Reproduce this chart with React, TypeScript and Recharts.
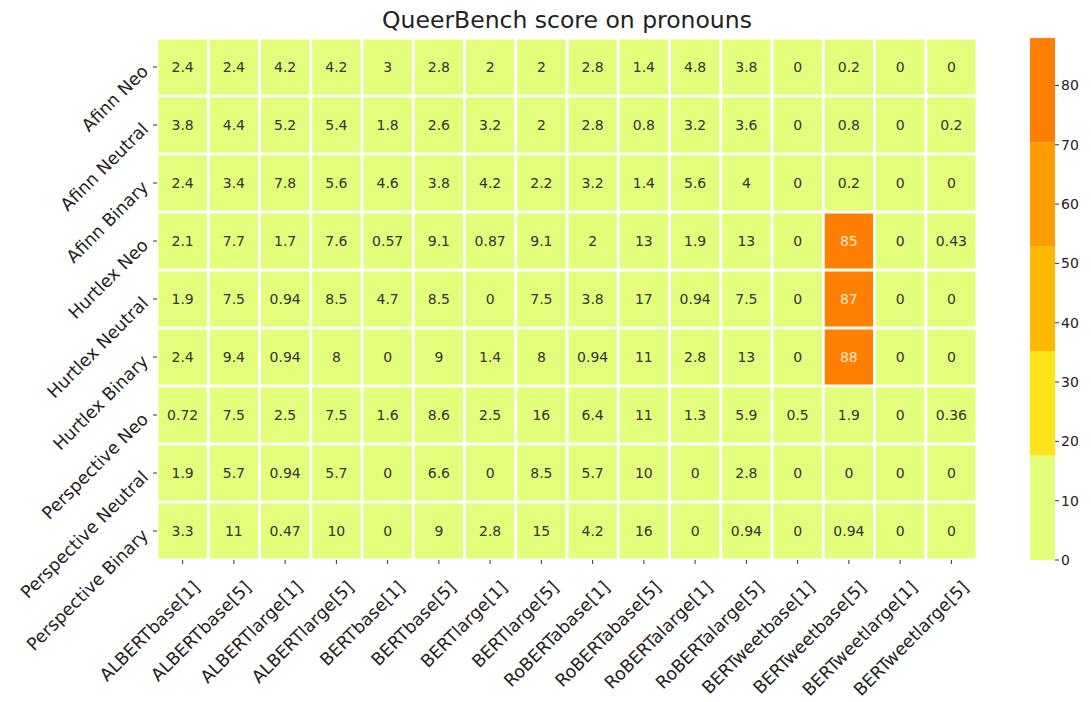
import { ComposedChart, Scatter, XAxis, YAxis, BarChart, Bar } from 'recharts'

const TITLE = 'QueerBench score on pronouns'

const MODELS = [
  'ALBERTbase[1]', 'ALBERTbase[5]', 'ALBERTlarge[1]', 'ALBERTlarge[5]',
  'BERTbase[1]', 'BERTbase[5]', 'BERTlarge[1]', 'BERTlarge[5]',
  'RoBERTabase[1]', 'RoBERTabase[5]', 'RoBERTalarge[1]', 'RoBERTalarge[5]',
  'BERTweetbase[1]', 'BERTweetbase[5]', 'BERTweetlarge[1]', 'BERTweetlarge[5]',
]

const METRICS = [
  'Afinn Neo', 'Afinn Neutral', 'Afinn Binary',
  'Hurtlex Neo', 'Hurtlex Neutral', 'Hurtlex Binary',
  'Perspective Neo', 'Perspective Neutral', 'Perspective Binary',
]

const AFINN_NEO = [2.4, 2.4, 4.2, 4.2, 3, 2.8, 2, 2, 2.8, 1.4, 4.8, 3.8, 0, 0.2, 0, 0]
const AFINN_NEUTRAL = [3.8, 4.4, 5.2, 5.4, 1.8, 2.6, 3.2, 2, 2.8, 0.8, 3.2, 3.6, 0, 0.8, 0, 0.2]
const AFINN_BINARY = [2.4, 3.4, 7.8, 5.6, 4.6, 3.8, 4.2, 2.2, 3.2, 1.4, 5.6, 4, 0, 0.2, 0, 0]
const HURTLEX_NEO = [2.1, 7.7, 1.7, 7.6, 0.57, 9.1, 0.87, 9.1, 2, 13, 1.9, 13, 0, 85, 0, 0.43]
const HURTLEX_NEUTRAL = [1.9, 7.5, 0.94, 8.5, 4.7, 8.5, 0, 7.5, 3.8, 17, 0.94, 7.5, 0, 87, 0, 0]
const HURTLEX_BINARY = [2.4, 9.4, 0.94, 8, 0, 9, 1.4, 8, 0.94, 11, 2.8, 13, 0, 88, 0, 0]
const PERSPECTIVE_NEO = [0.72, 7.5, 2.5, 7.5, 1.6, 8.6, 2.5, 16, 6.4, 11, 1.3, 5.9, 0.5, 1.9, 0, 0.36]
const PERSPECTIVE_NEUTRAL = [1.9, 5.7, 0.94, 5.7, 0, 6.6, 0, 8.5, 5.7, 10, 0, 2.8, 0, 0, 0, 0]
const PERSPECTIVE_BINARY = [3.3, 11, 0.47, 10, 0, 9, 2.8, 15, 4.2, 16, 0, 0.94, 0, 0.94, 0, 0]

const SCORES = [
  AFINN_NEO, AFINN_NEUTRAL, AFINN_BINARY,
  HURTLEX_NEO, HURTLEX_NEUTRAL, HURTLEX_BINARY,
  PERSPECTIVE_NEO, PERSPECTIVE_NEUTRAL, PERSPECTIVE_BINARY,
]

// discrete Wistia-like colour bands
const BAND_EDGES = [0, 17.6, 35.2, 52.8, 70.4, 88]
const BAND_COLORS = ['#e2fe7a', '#ffe419', '#ffb800', '#ff9c00', '#ff8000']
const CBAR_TICKS = [0, 10, 20, 30, 40, 50, 60, 70, 80]

const FONT = '"DejaVu Sans", sans-serif'
const PLOT_W = 820
const PLOT_H = 522
const CELL_W = PLOT_W / MODELS.length
const CELL_H = PLOT_H / METRICS.length
const GAP = 3
const LABEL_SIZE = 17.5

function colorFor(v: number) {
  for (let i = 0; i < BAND_COLORS.length; i++) {
    if (v < BAND_EDGES[i + 1]) return BAND_COLORS[i]
  }
  return BAND_COLORS[BAND_COLORS.length - 1]
}

const cells = SCORES.flatMap((row, r) =>
  row.map((v, c) => ({ x: c + 0.5, y: r + 0.5, v })),
)

function Cell(props: { cx?: number; cy?: number; payload?: { v: number } }) {
  const { cx = 0, cy = 0, payload } = props
  const v = payload?.v ?? 0
  const dark = v > 52.8
  return (
    <g>
      <rect
        x={cx - CELL_W / 2 + GAP / 2}
        y={cy - CELL_H / 2 + GAP / 2}
        width={CELL_W - GAP}
        height={CELL_H - GAP}
        fill={colorFor(v)}
      />
      <text
        x={cx}
        y={cy}
        dy="0.36em"
        textAnchor="middle"
        fontSize={14}
        fontFamily={FONT}
        fill={dark ? '#ffe9d0' : '#333333'}
      >
        {String(v)}
      </text>
    </g>
  )
}

function ModelTick(props: { x?: number; y?: number; payload?: { value: number } }) {
  const { x = 0, y = 0, payload } = props
  const label = MODELS[Math.floor(payload?.value ?? 0)]
  const ax = x + 14
  const ay = y + 18
  return (
    <text
      x={ax}
      y={ay}
      transform={`rotate(-45, ${ax}, ${ay})`}
      textAnchor="end"
      dy="0.35em"
      fontSize={LABEL_SIZE}
      fontFamily={FONT}
      fill="#222"
    >
      {label}
    </text>
  )
}

function MetricTick(props: { x?: number; y?: number; payload?: { value: number } }) {
  const { x = 0, y = 0, payload } = props
  const label = METRICS[Math.floor(payload?.value ?? 0)]
  const ax = x - 6
  const ay = y + 1
  return (
    <text
      x={ax}
      y={ay}
      transform={`rotate(-45, ${ax}, ${ay})`}
      textAnchor="end"
      dy="0.35em"
      fontSize={LABEL_SIZE}
      fontFamily={FONT}
      fill="#222"
    >
      {label}
    </text>
  )
}

const bandRow = [
  BAND_EDGES.slice(1).reduce<Record<string, number | string>>(
    (acc, edge, i) => {
      acc[`b${i}`] = edge - BAND_EDGES[i]
      return acc
    },
    { name: 'cbar' },
  ),
]

export default function App() {
  return (
    <div style={{ position: 'absolute', left: 0, top: 0, width: 1091, height: 702, background: '#fff', fontFamily: FONT }}>
      <div
        style={{
          position: 'absolute',
          left: 157,
          width: PLOT_W,
          top: 6,
          textAlign: 'center',
          fontSize: 23.5,
          color: '#222',
        }}
      >
        {TITLE}
      </div>
      <div style={{ position: 'absolute', left: 0, top: 0 }}>
        <ComposedChart
          width={1000}
          height={702}
          margin={{ top: 38, left: 7, right: 23, bottom: 2 }}
        >
          <XAxis
            type="number"
            dataKey="x"
            domain={[0, MODELS.length]}
            ticks={MODELS.map((_, i) => i + 0.5)}
            interval={0}
            height={140}
            axisLine={false}
            tickSize={4}
            tickLine={{ stroke: '#333' }}
            tick={<ModelTick />}
          />
          <YAxis
            type="number"
            dataKey="y"
            domain={[0, METRICS.length]}
            reversed
            ticks={METRICS.map((_, i) => i + 0.5)}
            interval={0}
            width={150}
            axisLine={false}
            tickSize={4}
            tickLine={{ stroke: '#333' }}
            tick={<MetricTick />}
          />
          <Scatter data={cells} shape={<Cell />} isAnimationActive={false} />
        </ComposedChart>
      </div>
      <div style={{ position: 'absolute', left: 1000, top: 0 }}>
        <BarChart
          width={91}
          height={702}
          data={bandRow}
          margin={{ top: 38, left: 30, right: 0, bottom: 142 }}
          barCategoryGap={0}
        >
          <XAxis dataKey="name" hide />
          <YAxis
            orientation="right"
            domain={[0, 88]}
            ticks={CBAR_TICKS}
            interval={0}
            width={36}
            axisLine={false}
            tickSize={4}
            tickLine={{ stroke: '#333' }}
            tick={{ fontSize: 14, fill: '#222', fontFamily: FONT }}
            allowDataOverflow
          />
          {BAND_COLORS.map((color, i) => (
            <Bar key={i} dataKey={`b${i}`} stackId="cb" fill={color} isAnimationActive={false} />
          ))}
        </BarChart>
      </div>
    </div>
  )
}
